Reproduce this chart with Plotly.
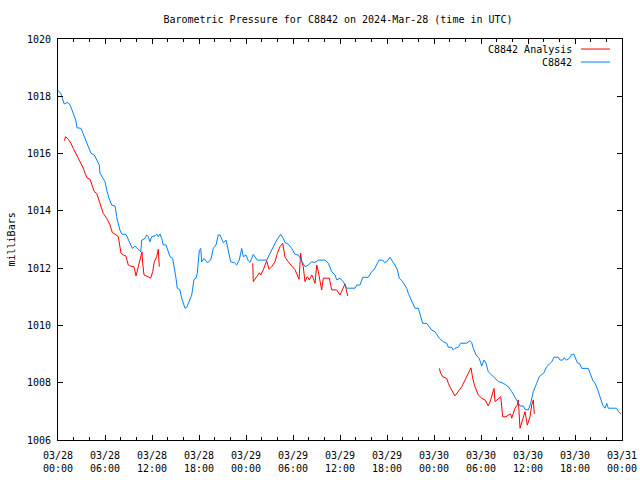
import pandas as pd
import plotly.graph_objects as go

# Hours since 2024-03-28 00:00 UTC and pressure in millibars
station_hours = [0.0, 0.38, 0.42, 0.80, 1.24, 1.53, 1.75, 1.95, 2.26, 2.43, 2.94, 3.19, 3.45, 3.70, 4.05, 4.21,
                 4.63, 4.94, 5.27, 5.36, 5.66, 6.00, 6.22, 6.51, 6.86, 7.28, 7.49, 7.57, 7.91, 8.13, 8.68, 9.10,
                 9.49, 9.83, 10.25, 10.56, 10.69, 11.11, 11.32, 11.53, 11.74, 11.96, 12.38, 12.60, 12.80, 13.02,
                 13.24, 13.44, 13.79, 14.08, 14.30, 14.64, 14.81, 15.06, 15.23, 15.57, 15.79, 16.09, 16.21, 16.43,
                 16.76, 17.07, 17.36, 17.62, 17.78, 18.04, 18.22, 18.35, 18.64, 19.06, 19.49, 19.83, 20.17, 20.46,
                 20.68, 20.90, 21.10, 21.45, 21.74, 22.05, 22.51, 22.81, 23.14, 23.45, 23.66, 24.00, 24.29, 24.51,
                 24.93, 25.44, 26.64, 27.06, 27.49, 27.92, 28.43, 28.76, 28.98, 29.40, 29.83, 30.26, 30.68, 31.11,
                 31.53, 31.95, 32.39, 32.81, 33.23, 34.09, 34.51, 34.94, 35.36, 35.58, 36.00, 36.42, 36.64, 36.86,
                 37.91, 38.13, 38.55, 38.90, 39.61, 40.05, 40.34, 40.69, 40.98, 41.45, 41.66, 41.96, 42.17, 42.38,
                 42.73, 43.02, 43.32, 43.57, 44.00, 44.30, 44.51, 44.72, 45.03, 45.36, 45.57, 46.00, 46.21, 46.43,
                 46.56, 47.07, 47.40, 47.71, 48.13, 48.42, 48.68, 49.19, 49.62, 49.83, 50.26, 50.46, 50.68, 51.10,
                 51.41, 52.17, 52.60, 52.81, 53.02, 53.36, 53.78, 54.09, 54.38, 54.64, 54.93, 55.37, 55.79, 56.21,
                 56.85, 57.49, 57.92, 58.56, 58.98, 59.40, 59.62, 60.04, 60.34, 60.68, 60.89, 61.11, 61.44, 61.75,
                 62.04, 62.39, 62.81, 63.03, 63.32, 63.87, 64.09, 64.43, 64.60, 64.94, 65.27, 65.58, 65.87, 66.13,
                 66.29, 66.64, 66.86, 67.70, 67.91, 68.26, 68.55, 68.85, 69.19, 69.54, 69.83, 70.05, 70.25, 71.32,
                 71.53, 71.87]
station_mb = [1018.20, 1018.10, 1018.04, 1017.73, 1017.79, 1017.70, 1017.55, 1017.41, 1017.17, 1016.90, 1016.88,
              1016.71, 1016.53, 1016.36, 1016.12, 1016.01, 1015.95, 1015.78, 1015.60, 1015.31, 1015.19, 1015.02,
              1014.73, 1014.44, 1014.20, 1014.17, 1013.80, 1013.68, 1013.33, 1013.19, 1013.18, 1012.92, 1012.69,
              1012.77, 1012.66, 1012.57, 1012.98, 1013.04, 1013.16, 1013.10, 1012.92, 1013.10, 1013.13, 1013.19,
              1013.10, 1013.19, 1013.04, 1012.81, 1012.81, 1012.57, 1012.40, 1012.34, 1012.11, 1011.65, 1011.30,
              1011.24, 1010.95, 1010.71, 1010.60, 1010.63, 1010.89, 1011.06, 1011.61, 1011.65, 1011.82, 1012.61,
              1012.69, 1012.22, 1012.34, 1012.19, 1012.28, 1012.69, 1012.81, 1013.16, 1013.16, 1013.04, 1012.89,
              1012.98, 1012.57, 1012.22, 1012.19, 1012.11, 1012.28, 1012.69, 1012.40, 1012.46, 1012.26, 1012.20,
              1012.48, 1012.28, 1012.28, 1012.52, 1012.75, 1012.98, 1013.18, 1013.04, 1012.89, 1012.84, 1012.69,
              1012.48, 1012.46, 1012.26, 1012.05, 1012.11, 1012.22, 1012.20, 1012.28, 1012.28, 1012.17, 1011.88,
              1011.76, 1011.59, 1011.65, 1011.53, 1011.41, 1011.30, 1011.30, 1011.41, 1011.41, 1011.68, 1011.68,
              1011.88, 1011.94, 1012.11, 1012.28, 1012.28, 1012.20, 1012.22, 1012.31, 1012.38, 1012.22, 1012.11,
              1011.94, 1011.65, 1011.53, 1011.41, 1011.30, 1011.12, 1010.95, 1010.77, 1010.60, 1010.60, 1010.42,
              1010.25, 1010.07, 1010.07, 1009.96, 1009.84, 1009.78, 1009.63, 1009.55, 1009.43, 1009.38, 1009.24,
              1009.24, 1009.14, 1009.20, 1009.24, 1009.38, 1009.38, 1009.47, 1009.40, 1009.20, 1008.97, 1008.85,
              1008.58, 1008.79, 1008.68, 1008.38, 1008.27, 1008.15, 1008.04, 1007.98, 1007.86, 1007.69, 1007.40,
              1007.19, 1007.19, 1007.07, 1007.05, 1007.28, 1007.69, 1007.86, 1007.98, 1008.21, 1008.30, 1008.35,
              1008.56, 1008.68, 1008.73, 1008.89, 1008.89, 1008.79, 1008.79, 1008.87, 1008.79, 1008.85, 1008.99,
              1008.99, 1008.82, 1008.70, 1008.65, 1008.50, 1008.50, 1008.33, 1008.09, 1007.98, 1007.80, 1007.51,
              1007.22, 1007.11, 1007.28, 1007.11, 1007.11, 1006.99, 1006.91]

analysis_hours = [0.80, 0.98, 1.31, 1.66, 1.95, 2.26, 2.59, 2.94, 3.23, 3.45, 3.74, 4.09, 4.30, 4.63, 4.94, 5.14,
                  5.45, 5.78, 6.22, 6.42, 6.64, 6.93, 7.28, 7.70, 7.91, 8.04, 8.34, 8.68, 8.97, 9.28, 9.70, 9.96,
                  10.25, 10.56, 10.72, 10.81, 10.98, 11.53, 11.83, 12.09, 12.29, 12.60, 12.80, 12.93, None,
                  24.86, 24.93, 25.37, 25.70, 25.88, 26.21, 26.64, 26.94, 27.28, 27.70, 28.00, 28.34, 28.69, 28.85,
                  28.98, 29.40, 29.71, 30.26, 30.55, 30.77, 30.98, 31.11, 31.31, 31.53, 31.83, 32.08, 32.39, 32.59,
                  32.81, 33.03, 33.23, 33.45, 33.66, 33.87, 34.63, 34.94, 35.58, 36.00, 36.34, 36.64, 36.86, 36.98,
                  None,
                  48.68, 48.86, 49.11, 49.62, 49.83, 50.13, 50.68, 51.10, 51.54, 51.96, 52.38, 52.72, 52.94, 53.23,
                  53.66, 54.09, 54.51, 54.93, 55.24, 55.49, 55.66, 55.79, 56.34, 56.52, 56.77, 57.19, 57.49, 57.79,
                  57.92, 58.34, 58.63, 58.76, 58.98, 59.32, 59.62, 59.91, 60.26, 60.47, 60.68, 60.80]
analysis_mb = [1016.45, 1016.59, 1016.50, 1016.36, 1016.18, 1016.01, 1015.84, 1015.66, 1015.49, 1015.31, 1015.14,
               1015.10, 1014.90, 1014.67, 1014.61, 1014.44, 1014.15, 1013.91, 1013.74, 1013.62, 1013.51, 1013.24,
               1013.19, 1013.10, 1012.81, 1012.52, 1012.46, 1012.42, 1012.11, 1012.07, 1012.05, 1011.73, 1012.05,
               1012.40, 1012.57, 1012.17, 1011.76, 1011.70, 1011.65, 1011.88, 1012.22, 1012.40, 1012.66, 1012.05,
               None,
               1012.17, 1011.53, 1011.70, 1011.84, 1011.76, 1011.94, 1012.26, 1011.96, 1012.05, 1012.22, 1012.52,
               1012.75, 1012.87, 1012.63, 1012.38, 1012.22, 1012.11, 1011.94, 1011.76, 1011.61, 1012.52, 1012.22,
               1012.05, 1011.53, 1011.70, 1011.59, 1011.76, 1011.65, 1011.47, 1012.11, 1011.88, 1011.53, 1011.24,
               1011.65, 1011.65, 1011.24, 1011.24, 1011.06, 1011.30, 1011.45, 1011.18, 1011.03,
               None,
               1008.50, 1008.33, 1008.21, 1008.15, 1007.98, 1007.80, 1007.54, 1007.69, 1007.86, 1008.09, 1008.33,
               1008.52, 1008.15, 1007.86, 1007.57, 1007.46, 1007.40, 1007.19, 1007.40, 1007.63, 1007.80, 1007.34,
               1007.46, 1007.51, 1006.81, 1006.81, 1006.87, 1006.91, 1006.76, 1007.11, 1007.22, 1007.40, 1006.41,
               1006.70, 1006.99, 1006.52, 1006.81, 1007.22, 1007.40, 1006.91]

series_names = ["C8842 Analysis", "C8842"]
series_colors = ["#ff0000", "#0080ff"]
title_text = "Barometric Pressure for C8842 on 2024-Mar-28 (time in UTC)"
y_title = "milliBars"

base = pd.Timestamp("2024-03-28 00:00")


def to_time(hours):
    return [None if h is None else base + pd.Timedelta(hours=h) for h in hours]


FONT = "DejaVu Sans Mono"

fig = go.Figure()
fig.add_trace(go.Scatter(x=to_time(analysis_hours), y=analysis_mb, mode="lines",
                         line=dict(color=series_colors[0], width=1), name=series_names[0],
                         connectgaps=False, showlegend=False))
fig.add_trace(go.Scatter(x=to_time(station_hours), y=station_mb, mode="lines",
                         line=dict(color=series_colors[1], width=1), name=series_names[1],
                         showlegend=False))

axis_common = dict(showline=True, linecolor="black", linewidth=1, mirror="ticks",
                   ticks="inside", tickcolor="black", showgrid=False, zeroline=False,
                   tickfont=dict(family=FONT, size=10, color="black"))

fig.update_xaxes(type="date", range=[base, base + pd.Timedelta(hours=72)],
                 tickformat="%m/%d<br>%H:%M", dtick=6 * 3600 * 1000, tick0=base,
                 ticklen=5, ticklabelstandoff=6,
                 minor=dict(dtick=2 * 3600 * 1000, ticks="inside", ticklen=3, tickcolor="black"),
                 **axis_common)
fig.update_yaxes(range=[1006, 1020], dtick=2, ticklen=5, tickformat="d", ticklabelstandoff=4,
                 **axis_common)

# Legend (gnuplot style: text on the left, line sample on the right)
legend_y = [0.975, 0.9426]
for name, color, ly in zip(series_names, series_colors, legend_y):
    fig.add_annotation(xref="paper", yref="paper", x=0.9149, y=ly, text=name, showarrow=False,
                       xanchor="right", yanchor="middle", font=dict(family=FONT, size=10, color="black"))
    fig.add_shape(type="line", xref="paper", yref="paper", x0=0.9273, x1=0.9787, y0=ly, y1=ly,
                  line=dict(color=color, width=1))

fig.add_annotation(xref="paper", yref="paper", x=-0.0816, y=0.5, text=y_title, textangle=-90,
                   showarrow=False, xanchor="center", yanchor="middle",
                   font=dict(family=FONT, size=10, color="black"))

fig.update_layout(
    width=640, height=480,
    margin=dict(l=58, r=18, t=39, b=40, autoexpand=False),
    paper_bgcolor="white", plot_bgcolor="white",
    font=dict(family=FONT, size=10, color="black"),
    title=dict(text=title_text, x=338 / 640, xanchor="center", y=1 - 19 / 480, yanchor="middle",
               yref="container", font=dict(family=FONT, size=10, color="black")),
)

fig.write_html("out.html", config={"displayModeBar": False},
               post_script="document.body.style.margin='0';document.body.style.overflow='hidden';")
